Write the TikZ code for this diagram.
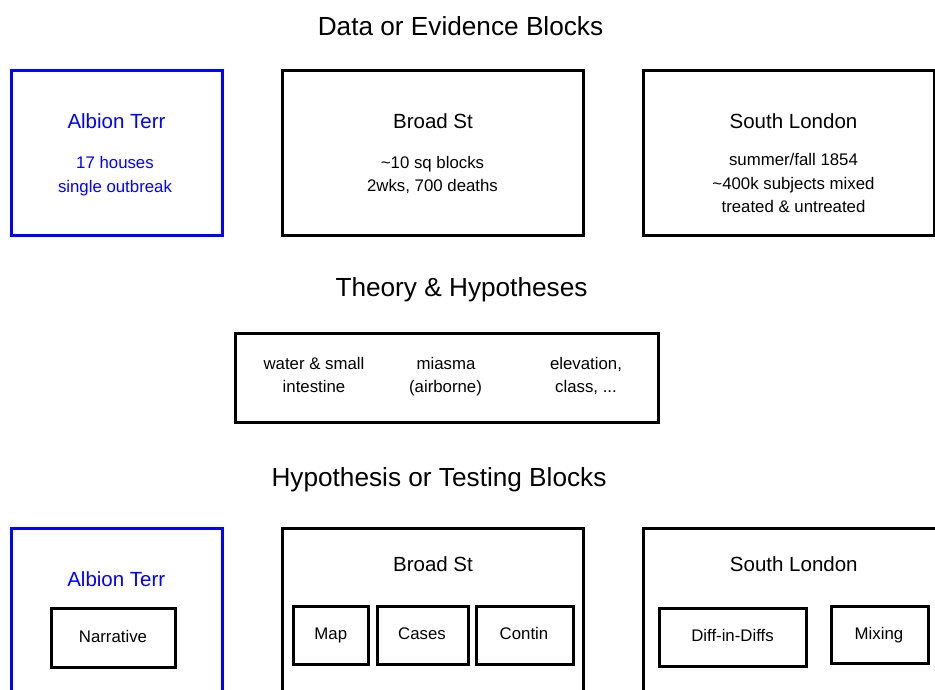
\documentclass[tikz,border=0pt]{standalone}
\usepackage{fontspec}
\setmainfont{Liberation Sans}
\definecolor{albion}{RGB}{0,0,255}
\tikzset{
  heading/.style={anchor=base, inner sep=0pt, font=\fontsize{26.2pt}{30pt}\selectfont},
  blocktitle/.style={anchor=base, inner sep=0pt, font=\fontsize{20.5pt}{24pt}\selectfont},
  blocktext/.style={anchor=base, inner sep=0pt, font=\fontsize{16.8pt}{20pt}\selectfont},
  outerbox/.style={draw=black, line width=3pt, inner sep=0pt, fill=white},
  bluebox/.style={outerbox, draw=albion},
  innerbox/.style={draw=black, line width=3pt, inner sep=0pt},
  bluetext/.style={text=albion}
}
\begin{document}
\begin{tikzpicture}[x=1pt,y=-1pt]
\useasboundingbox (0,0) rectangle (935,690);
\clip (0,0) rectangle (935,690);
\fill[white] (0,0) rectangle (935,690);

% ---- section headings
\node[heading] (hdata)   at (460.5,35.7)  {Data or Evidence Blocks};
\node[heading] (htheory) at (461.5,296.3) {Theory \& Hypotheses};
\node[heading] (htest)   at (439,486.3)   {Hypothesis or Testing Blocks};

% ---- data / evidence row
\node[bluebox,  minimum width=211, minimum height=164] (dalbion) at (116.5,153) {};
\node[outerbox, minimum width=301, minimum height=164] (dbroad)  at (432.5,153) {};
\node[outerbox, minimum width=291, minimum height=164] (dsouth)  at (788.5,153) {};

\node[blocktitle,bluetext] (dalbiont) at (116.5,128.3) {Albion Terr};
\node[blocktext,bluetext]  (dalbion1) at (115,168.2)   {17 houses};
\node[blocktext,bluetext]  (dalbion2) at (115,192.2)   {single outbreak};

\node[blocktitle] (dbroadt) at (433,128.3)   {Broad St};
\node[blocktext]  (dbroad1) at (432.5,168.3) {\char`\~10 sq blocks};
\node[blocktext]  (dbroad2) at (432.5,191.5) {2wks, 700 deaths};

\node[blocktitle] (dsoutht) at (793.5,128.8) {South London};
\node[blocktext]  (dsouth1) at (793.5,165.8) {summer/fall 1854};
\node[blocktext]  (dsouth2) at (793.5,189.3) {\char`\~400k subjects mixed};
\node[blocktext]  (dsouth3) at (793.5,212.8) {treated \& untreated};

% ---- theory box
\node[outerbox, minimum width=423, minimum height=89] (theory) at (446.5,377.5) {};
\node[blocktext] (th1a) at (314,369)   {water \& small};
\node[blocktext] (th1b) at (314,392.6) {intestine};
\node[blocktext] (th2a) at (446,369)   {miasma};
\node[blocktext] (th2b) at (445.5,392.6) {(airborne)};
\node[blocktext] (th3a) at (586,369)   {elevation,};
\node[blocktext] (th3b) at (586,392.6) {class, ...};

% ---- hypothesis / testing row (runs past the lower edge)
\node[bluebox,  minimum width=211, minimum height=190] (talbion) at (116.5,623) {};
\node[outerbox, minimum width=301, minimum height=190] (tbroad)  at (432.5,623) {};
\node[outerbox, minimum width=300, minimum height=190] (tsouth)  at (793,623)   {};

\node[blocktitle,bluetext] (talbiont) at (116.3,586) {Albion Terr};
\node[innerbox, minimum width=124, minimum height=59] (narr) at (113,637.5) {};
\node[blocktext] (narrt) at (113,642) {Narrative};

\node[blocktitle] (tbroadt) at (433,571) {Broad St};
\node[innerbox, minimum width=75, minimum height=58] (mapb)   at (330.5,635) {};
\node[innerbox, minimum width=91, minimum height=58] (casesb) at (422.5,635) {};
\node[innerbox, minimum width=97, minimum height=58] (contb)  at (524.5,635) {};
\node[blocktext] (mapt)   at (330.8,639.3) {Map};
\node[blocktext] (casest) at (422,639.3)   {Cases};
\node[blocktext] (contt)  at (524,639.3)   {Contin};

\node[blocktitle] (tsoutht) at (793.8,571.5) {South London};
\node[innerbox, minimum width=147, minimum height=58] (diffb) at (732.5,637) {};
\node[innerbox, minimum width=97,  minimum height=57] (mixb)  at (879.5,634.5) {};
\node[blocktext] (difft) at (732.5,641) {Diff-in-Diffs};
\node[blocktext] (mixt)  at (879,639)   {Mixing};
\end{tikzpicture}
\end{document}
